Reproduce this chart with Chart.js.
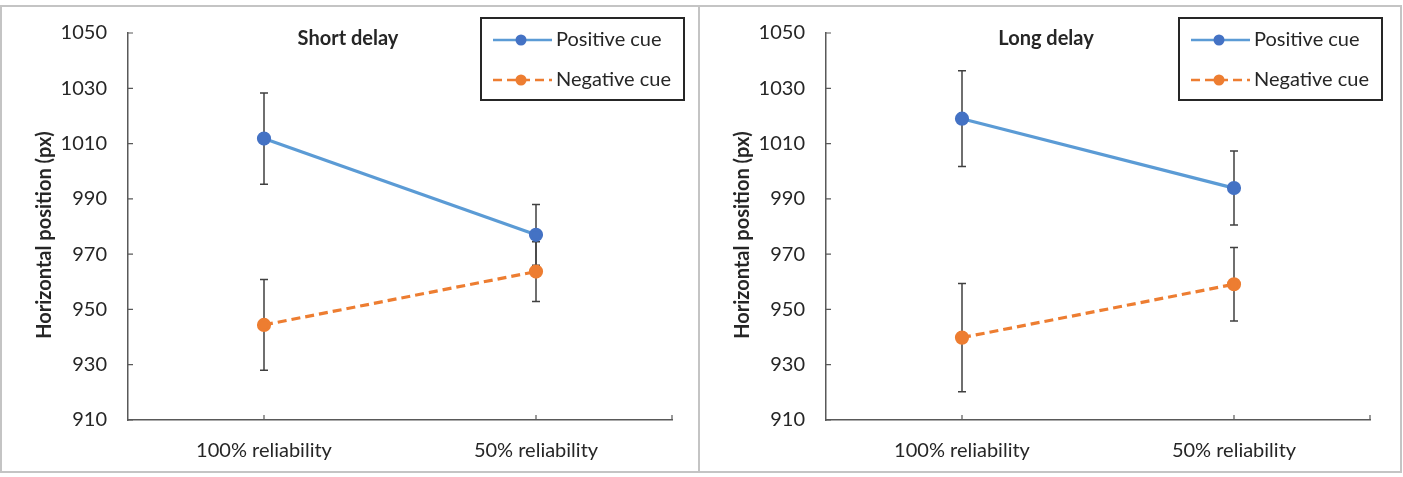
<!DOCTYPE html>
<html>
<head>
<meta charset="utf-8">
<title>Horizontal position by cue reliability</title>
<script src="https://cdn.jsdelivr.net/npm/chart.js@4/dist/chart.umd.min.js"></script>
<style>
  html, body { margin: 0; padding: 0; background: #fff; }
  body { width: 1403px; height: 477px; position: relative; overflow: hidden; }
  .panel { position: absolute; top: 5px; height: 468px; border: 2px solid #c4c4c4; box-sizing: border-box; }
  #frameL { left: 0; width: 700px; }
  #frameR { left: 698px; width: 704px; }
  canvas { position: absolute; top: 0; }
  #shortChart { left: 0; }
  #longChart { left: 698px; }
</style>
</head>
<body>
<div class="panel" id="frameL"></div>
<div class="panel" id="frameR"></div>
<canvas id="shortChart" width="698" height="477"></canvas>
<canvas id="longChart" width="705" height="477"></canvas>
<script>
// data
const categories = ['100% reliability', '50% reliability'];
const seriesNames = ['Positive cue', 'Negative cue'];

const shortPositive = [1011.8, 977.0];
const shortPositiveErr = [16.5, 11.0];
const shortNegative = [944.4, 963.7];
const shortNegativeErr = [16.4, 10.8];

const longPositive = [1019.0, 993.9];
const longPositiveErr = [17.3, 13.4];
const longNegative = [939.8, 959.1];
const longNegativeErr = [19.6, 13.3];

const yMin = 910, yMax = 1050, yStep = 20;

const FONT = 'Lato, "Open Sans", sans-serif';
const textColor = '#262626';
const blueLine = '#5b9bd5', blueDot = '#4472c4';
const orange = '#ed7d31';
const axisColor = '#595959';

// error bars, axis tick marks, axis title, panel title and legend box
const decorations = {
  id: 'decorations',
  beforeDatasetsDraw(chart, args, opts) {
    const ctx = chart.ctx;
    const x = chart.scales.x, y = chart.scales.y;
    ctx.save();
    ctx.strokeStyle = '#404040';
    ctx.lineWidth = 1.5;
    opts.errors.forEach((errs, di) => {
      const vals = chart.data.datasets[di].data;
      vals.forEach((v, i) => {
        const px = x.getPixelForValue(i);
        const top = y.getPixelForValue(v + errs[i]);
        const bot = y.getPixelForValue(v - errs[i]);
        ctx.beginPath();
        ctx.moveTo(px, top); ctx.lineTo(px, bot);
        ctx.moveTo(px - 4, top); ctx.lineTo(px + 4, top);
        ctx.moveTo(px - 4, bot); ctx.lineTo(px + 4, bot);
        ctx.stroke();
      });
    });
    ctx.restore();
  },
  afterDraw(chart, args, opts) {
    const ctx = chart.ctx;
    const area = chart.chartArea;
    const x = chart.scales.x, y = chart.scales.y;
    ctx.save();
    // inside tick marks
    ctx.strokeStyle = axisColor;
    ctx.lineWidth = 1.2;
    ctx.beginPath();
    y.ticks.forEach((t, i) => {
      const py = y.getPixelForTick(i);
      ctx.moveTo(area.left, py); ctx.lineTo(area.left + 5, py);
    });
    categories.forEach((c, i) => {
      const px = x.getPixelForValue(i);
      ctx.moveTo(px, area.bottom); ctx.lineTo(px, area.bottom - 5);
    });
    ctx.moveTo(area.right, area.bottom); ctx.lineTo(area.right, area.bottom - 5);
    ctx.stroke();

    // y axis title
    ctx.fillStyle = textColor;
    ctx.font = 'bold 20px ' + FONT;
    ctx.textAlign = 'center';
    ctx.textBaseline = 'middle';
    ctx.save();
    ctx.translate(45, 235);
    ctx.rotate(-Math.PI / 2);
    ctx.fillText(opts.yTitle, 0, 0);
    ctx.restore();

    // panel title
    ctx.font = 'bold 20px ' + FONT;
    ctx.fillText(opts.title, 348, 39);

    // legend box
    const bx = 481, by = 18, bw = 203, bh = 82;
    ctx.strokeStyle = textColor;
    ctx.lineWidth = 2;
    ctx.strokeRect(bx, by, bw, bh);
    chart.data.datasets.forEach((ds, i) => {
      const ly = by + 22 + i * 40;
      ctx.strokeStyle = ds.borderColor;
      ctx.lineWidth = 2.5;
      ctx.setLineDash(ds.borderDash || []);
      ctx.beginPath();
      ctx.moveTo(bx + 12, ly); ctx.lineTo(bx + 71, ly);
      ctx.stroke();
      ctx.setLineDash([]);
      ctx.fillStyle = ds.pointBackgroundColor;
      ctx.beginPath();
      ctx.arc(bx + 40, ly, 5.5, 0, Math.PI * 2);
      ctx.fill();
      ctx.fillStyle = textColor;
      ctx.font = '20px ' + FONT;
      ctx.textAlign = 'left';
      ctx.fillText(ds.label, bx + 75, ly);
    });
    ctx.restore();
  }
};

function makeChart(canvasId, title, pos, posErr, neg, negErr, rightPad) {
  return new Chart(document.getElementById(canvasId), {
    type: 'line',
    data: {
      labels: categories,
      datasets: [
        {
          label: seriesNames[0],
          data: pos,
          borderColor: blueLine,
          borderWidth: 3.2,
          pointBackgroundColor: blueDot,
          pointBorderColor: blueDot,
          pointRadius: 5.5,
          tension: 0
        },
        {
          label: seriesNames[1],
          data: neg,
          borderColor: orange,
          borderWidth: 3.2,
          borderDash: [9, 5],
          pointBackgroundColor: orange,
          pointBorderColor: orange,
          pointRadius: 5.5,
          tension: 0
        }
      ]
    },
    options: {
      responsive: false,
      animation: false,
      layout: { padding: { top: 31, right: rightPad, bottom: 0, left: 0 } },
      plugins: {
        legend: { display: false },
        tooltip: { enabled: false },
        decorations: { title: title, yTitle: 'Horizontal position (px)', errors: [posErr, negErr] }
      },
      scales: {
        x: {
          offset: true,
          grid: { display: false, drawTicks: false },
          border: { color: axisColor, width: 1.5 },
          ticks: { color: textColor, font: { family: FONT, size: 20 }, padding: 19 },
          afterFit: (s) => { s.height = 57; }
        },
        y: {
          min: yMin,
          max: yMax,
          grid: { display: false, drawTicks: false },
          border: { color: axisColor, width: 1.5 },
          ticks: {
            stepSize: yStep,
            color: textColor,
            font: { family: FONT, size: 20 },
            padding: 21,
            callback: (v) => String(v)
          },
          afterFit: (s) => { s.width = 128; }
        }
      }
    },
    plugins: [decorations]
  });
}

makeChart('shortChart', 'Short delay', shortPositive, shortPositiveErr, shortNegative, shortNegativeErr, 26);
makeChart('longChart', 'Long delay', longPositive, longPositiveErr, longNegative, longNegativeErr, 33);
</script>
</body>
</html>
